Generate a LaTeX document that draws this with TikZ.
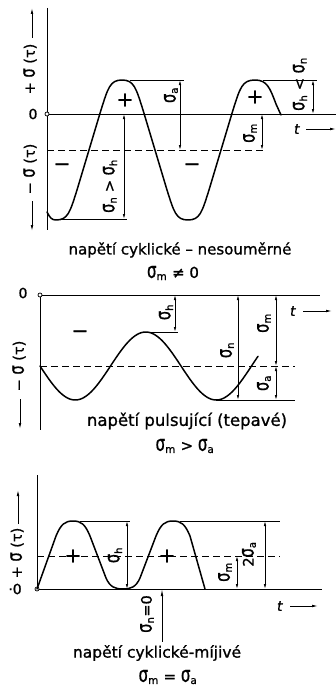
\documentclass[tikz,border=0pt]{standalone}
\usepackage{fontspec}
\usepackage{graphicx}
\setmainfont{DejaVu Sans}[FakeBold=1]
\usetikzlibrary{arrows.meta}
\newcommand\sgm{\scalebox{1}[1.45]{σ}}
\newcommand\sg[1]{\sgm\textsubscript{#1}}
\begin{document}
\begin{tikzpicture}[x=1pt,y=-1pt,
 curve/.style={line width=1.5pt, line join=round, line cap=round},
 axis/.style={line width=0.8pt},
 thin/.style={line width=0.7pt},
 dim/.style={line width=0.7pt,{Latex[length=5pt,width=2.4pt]}-{Latex[length=5pt,width=2.4pt]}},
 arr/.style={line width=0.8pt,-{Latex[length=6pt,width=2.6pt]}},
 dsh/.style={line width=0.8pt, dash pattern=on 7pt off 4pt},
 lbl/.style={inner sep=0pt, font=\fontsize{14}{14}\selectfont},
 rlbl/.style={inner sep=0pt, rotate=90, font=\fontsize{14.5}{14}\selectfont},
 captxt/.style={inner sep=0pt, font=\fontsize{15}{15}\selectfont},
 sign/.style={inner sep=0pt, font=\fontsize{20}{20}\selectfont},
 org/.style={draw, line width=0.7pt, fill=white, circle, inner sep=0pt, minimum size=4pt}]
\useasboundingbox (0,0) rectangle (336,693);

% ---------------- panel 1 ----------------
\draw[axis] (47,8) -- (47,230);
\draw[axis] (47,114) -- (336,114);
\node[org] (o1) at (47,114) {};
\draw[dsh] (47,150) -- (265,150);
\draw[curve] (47,212) .. controls (50,218) and (52,220) .. (56,220)
 .. controls (68,220) and (70,212) .. (77,190)
 -- (101,110)
 .. controls (108,88) and (110,80) .. (122,80)
 .. controls (134,80) and (136,88) .. (143,110)
 -- (167,190)
 .. controls (174,212) and (176,220) .. (188,220)
 .. controls (200,220) and (202,212) .. (209,190)
 -- (233,110)
 .. controls (240,88) and (242,80) .. (255,80)
 .. controls (267,80) and (270,88) .. (276,104)
 -- (281,115);
\draw[thin] (130,80) -- (184,80);
\draw[thin] (62,219) -- (127,219);
\draw[thin] (263,80) -- (317,80);
\draw[dim] (180,80) -- (180,150);
\draw[dim] (124,114) -- (124,219);
\draw[dim] (262,114) -- (262,150);
\draw[dim] (313,80) -- (313,114);
\node[rlbl] (a1) at (171,95) {\sg a};
\node[rlbl] (nh1) at (110,186) {\sg n > \sg h};
\node[rlbl] (m1) at (250,133) {\sg m};
\node[rlbl] (hn1) at (300,84) {\sg h < \sg n};
\node[sign] (p1) at (125,100) {+};
\node[sign] (p2) at (255,97) {+};
\node[sign] (q1) at (62,167) {−};
\node[sign] (q2) at (192,167) {−};
\node[lbl] (t1) at (297,129) {\textit{t}};
\draw[arr] (306,129) -- (336,129);
\node[lbl] (z1) at (33,114) {0};
\node[rlbl] (yp1) at (30,69) {+ \sgm{} (τ)};
\draw[arr] (32,38) -- (32,8);
\node[rlbl] (ym1) at (30,169) {− \sgm{} (τ)};
\draw[arr] (32,201) -- (32,231);
\node[captxt] (c1) at (180,250) {napětí cyklické – nesouměrné};
\node[captxt] (d1) at (173,273) {\sg m ≠ 0};

% ---------------- panel 2 ----------------
\draw[axis] (40,295) -- (40,430);
\draw[axis] (40,295) -- (320,295);
\node[org] (o2) at (40,295) {};
\node[lbl] (z2) at (23,293) {0};
\draw[dsh] (40,366) -- (295,366);
\draw[curve] plot[domain=0:218, samples=120, smooth] ({40+\x}, {366+34*sin(2.5532*\x)});
\draw[thin] (146,332) -- (178,332);
\draw[thin] (216,400) -- (295,400);
\draw[dim] (175,295) -- (175,332);
\draw[dim] (238,295) -- (238,400);
\draw[dim] (276,295) -- (276,366);
\draw[dim] (276,366) -- (276,400);
\node[rlbl] (h2) at (166,312) {\sg h};
\node[rlbl] (n2) at (227,350) {\sg n};
\node[rlbl] (m2) at (264,323) {\sg m};
\node[rlbl] (a2) at (264,383) {\sg a};
\node[sign] (q3) at (80,334) {−};
\node[lbl] (t2) at (293,311) {\textit{t}};
\draw[arr] (303,311) -- (332,311);
\node[rlbl] (ym2) at (19,366) {− \sgm{} (τ)};
\draw[arr] (20,399) -- (20,429);
\node[captxt, font=\fontsize{16.5}{16}\selectfont] (c2) at (187,421) {napětí pulsující (tepavé)};
\node[captxt] (d2) at (185,446) {\sg m > \sg a};

% ---------------- panel 3 ----------------
\draw[axis] (37,475) -- (37,589);
\draw[axis] (37,589) -- (322,589);
\node[org] (o3) at (37,589) {};
\node[lbl] (z3) at (15,589) {·0};
\draw[dsh] (37,556) -- (280,556);
\draw[curve] (37,589) -- (56,536)
 .. controls (61,524) and (65,521) .. (73,521)
 .. controls (81,521) and (85,524) .. (90,536)
 -- (106,578)
 .. controls (110,587) and (115,589) .. (123,589)
 .. controls (131,589) and (136,587) .. (140,578)
 -- (156,536)
 .. controls (161,524) and (165,521) .. (173,521)
 .. controls (181,521) and (185,524) .. (190,536)
 -- (205,589);
\draw[thin] (80,521) -- (130,521);
\draw[thin] (180,521) -- (280,521);
\draw[dim] (127,521) -- (127,589);
\draw[dim] (237,556) -- (237,589);
\draw[dim] (265,521) -- (265,589);
\draw[line width=0.8pt,{Latex[length=7pt,width=2.6pt]}-] (162,589) -- (162,642);
\node[rlbl] (h3) at (115,555) {\sg h};
\node[rlbl] (m3) at (225,572) {\sg m};
\node[rlbl] (a3) at (249,554) {2\sgm\textsubscript{a}};
\node[rlbl] (n3) at (147,614) {\sg n=0};
\node[sign] (p3) at (73,556) {+};
\node[sign] (p4) at (167,556) {+};
\node[lbl] (t3) at (280,606) {\textit{t}};
\draw[arr] (290,606) -- (318,606);
\node[rlbl] (yp3) at (17,553) {+ \sgm{} (τ)};
\draw[arr] (18,524) -- (18,490);
\node[captxt, font=\fontsize{15.5}{16}\selectfont] (c3) at (157,653) {napětí cyklické-míjivé};
\node[captxt] (d3) at (168,677) {\sg m = \sg a};
\end{tikzpicture}
\end{document}
